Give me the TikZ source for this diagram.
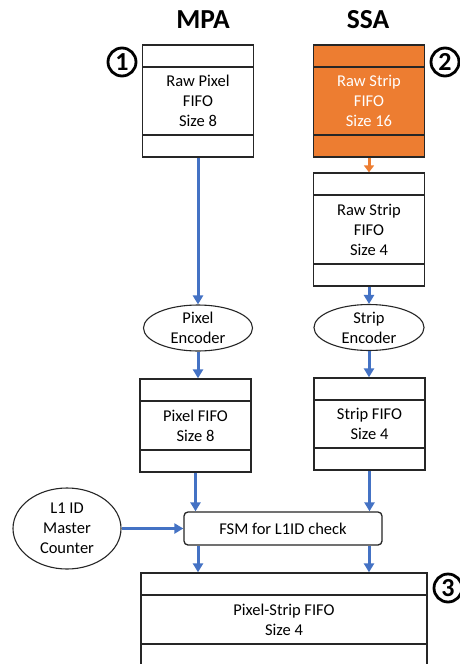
\documentclass[tikz,border=0pt]{standalone}
\usepackage{fontspec}
\setmainfont{Carlito}
\usetikzlibrary{shapes.geometric,arrows.meta}
\definecolor{B}{RGB}{68,114,196}
\definecolor{O}{RGB}{237,125,49}
\definecolor{K}{RGB}{38,38,38}
\tikzset{
  fifo/.style={draw=K, line width=1.3pt, minimum width=111pt, align=center,
    font=\fontsize{16.5}{20}\selectfont,
    path picture={
      \draw[K, line width=1.3pt] ([yshift=-22pt]path picture bounding box.north west) -- ([yshift=-22pt]path picture bounding box.north east);
      \draw[K, line width=1.3pt] ([yshift=22pt]path picture bounding box.south west) -- ([yshift=22pt]path picture bounding box.south east);
    }},
  enc/.style={draw=K, ellipse, line width=1.1pt, align=center, inner sep=0pt,
    font=\fontsize{16.5}{20}\selectfont},
  flow/.style={B, line width=3pt, -{Triangle[length=9pt,width=10pt]}},
  num/.style={circle, draw, line width=2.8pt, minimum size=28pt, inner sep=0pt,
    font=\fontsize{26}{26}\selectfont\bfseries},
  title/.style={font=\fontsize{27.5}{28}\selectfont\bfseries}
}
\begin{document}
\begin{tikzpicture}[x=1pt, y=-1pt]
  \useasboundingbox[fill=white] (0,0) rectangle (459,664);
  \node[title] (mpa) at (203,20) {MPA};
  \node[title] (ssa) at (368,20) {SSA};
  \node[num] (n1) at (122,62) {1};
  \node[num] (n2) at (445,62) {2};
  \node[num] (n3) at (448,588) {3};
  \node[fifo, minimum height=112pt] (rawpix) at (198,101) {Raw Pixel\\FIFO\\Size 8};
  \node[fifo, minimum height=112pt, fill=O, text=white] (rawss) at (369,101) {Raw Strip\\FIFO\\Size 16};
  \node[fifo, minimum height=113pt] (rawsf) at (369,229.5) {Raw Strip\\FIFO\\Size 4};
  \node[enc, minimum width=109pt, minimum height=46pt] (pixenc) at (198,328) {Pixel\\Encoder};
  \node[enc, minimum width=110pt, minimum height=46pt] (stripenc) at (369,327.5) {Strip\\Encoder};
  \node[fifo, minimum height=93pt] (pixfifo) at (195.5,425.5) {Pixel FIFO\\Size 8};
  \node[fifo, minimum height=92pt] (stripfifo) at (369.5,424) {Strip FIFO\\Size 4};
  \node[draw=K, line width=1.3pt, rounded corners=4pt, minimum width=198pt, minimum height=33pt,
    font=\fontsize{16.5}{20}\selectfont] (fsm) at (283,528.5) {FSM for L1ID check};
  \node[enc, minimum width=108pt, minimum height=81pt] (l1id) at (67,528.5) {L1 ID\\Master\\Counter};
  \node[fifo, minimum width=286pt, minimum height=93pt] (psfifo) at (284,619.5) {Pixel-Strip FIFO\\Size 4};
  \draw[flow] (rawpix.south) -- (pixenc.north);
  \draw[flow, O, -{Triangle[length=7pt,width=10pt]}] (rawss.south) -- (rawsf.north);
  \draw[flow] (rawsf.south) -- (stripenc.north);
  \draw[flow] (pixenc.south) -- (pixenc.south |- pixfifo.north);
  \draw[flow] (stripenc.south) -- (stripenc.south |- stripfifo.north);
  \draw[flow] (pixfifo.south) -- (pixfifo.south |- fsm.north);
  \draw[flow] (stripfifo.south) -- (stripfifo.south |- fsm.north);
  \draw[flow] (l1id.east) -- (fsm.west);
  \draw[flow] (fsm.south -| pixenc) -- (pixenc |- psfifo.north);
  \draw[flow] (fsm.south -| stripenc) -- (stripenc |- psfifo.north);
\end{tikzpicture}
\end{document}
